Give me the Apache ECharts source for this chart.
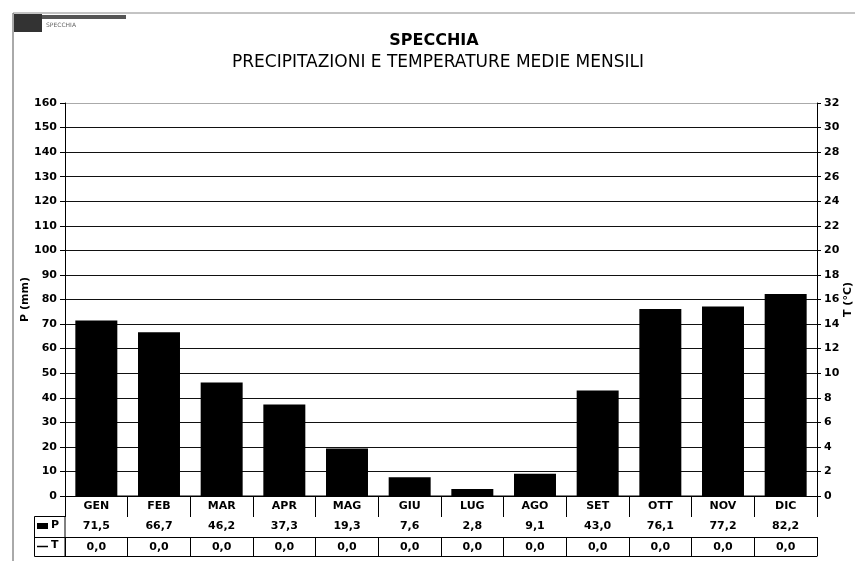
<!DOCTYPE html>
<html>
<head>
<meta charset="utf-8">
<script src="https://cdn.jsdelivr.net/npm/echarts@6/dist/echarts.min.js"></script>
<style>
html,body{margin:0;padding:0;background:#fff;overflow:hidden;}
#chart{width:858px;height:561px;}
</style>
</head>
<body>
<div id="chart"></div>
<script>
var categories = ['GEN','FEB','MAR','APR','MAG','GIU','LUG','AGO','SET','OTT','NOV','DIC'];
var precip = [71.5, 66.7, 46.2, 37.3, 19.3, 7.6, 2.8, 9.1, 43.0, 76.1, 77.2, 82.2];
var temp = [0.0, 0.0, 0.0, 0.0, 0.0, 0.0, 0.0, 0.0, 0.0, 0.0, 0.0, 0.0];
var titleText = 'SPECCHIA';
var subtitleText = 'PRECIPITAZIONI E TEMPERATURE MEDIE MENSILI';

function fmt(v){ return v.toFixed(1).replace('.', ','); }

var FONT = 'DejaVu Sans';
var lblStyle = {fontFamily: FONT, fontWeight: 'bold', fontSize: 11, color: '#000'};

var splitColors = [];
for (var i = 0; i < 16; i++) splitColors.push('#111');
splitColors.push('#aaa');

function tableAxis(offset, data, tickLen, showLabel) {
  return {
    type: 'category',
    gridIndex: 0,
    position: 'bottom',
    offset: offset,
    data: data,
    boundaryGap: true,
    axisLine: {show: true, lineStyle: {color: '#000', width: 1}},
    axisTick: {show: tickLen > 0, length: tickLen, inside: false, lineStyle: {color: '#000', width: 1}},
    axisLabel: Object.assign({show: showLabel, margin: 5, interval: 0}, lblStyle),
    splitLine: {show: false}
  };
}

var chart = echarts.init(document.getElementById('chart'));
chart.setOption({
  animation: false,
  backgroundColor: '#fff',
  grid: {left: 65, right: 41, top: 103, bottom: 65, containLabel: false, outerBoundsMode: 'none'},
  xAxis: [
    tableAxis(0, categories, 20, true),
    tableAxis(20, precip.map(fmt), 21, true),
    tableAxis(41, temp.map(fmt), 19, true),
    tableAxis(60, categories, 0, false)
  ],
  yAxis: [
    {
      type: 'value', min: 0, max: 160, interval: 10, position: 'left',
      name: 'P (mm)', nameLocation: 'middle', nameRotate: 90, nameGap: 34, nameMoveOverlap: false,
      nameTextStyle: {fontFamily: FONT, fontWeight: 'bold', fontSize: 11, color: '#000'},
      axisLine: {show: true, lineStyle: {color: '#000', width: 1}},
      axisTick: {show: true, length: 5, lineStyle: {color: '#000'}},
      axisLabel: Object.assign({margin: 8}, lblStyle),
      splitLine: {show: true, lineStyle: {color: splitColors, width: 1}}
    },
    {
      type: 'value', min: 0, max: 32, interval: 2, position: 'right',
      name: 'T (°C)', nameLocation: 'middle', nameRotate: 90, nameGap: 26, nameMoveOverlap: false,
      nameTextStyle: {fontFamily: FONT, fontWeight: 'bold', fontSize: 11, color: '#000'},
      axisLine: {show: true, lineStyle: {color: '#000', width: 1}},
      axisTick: {show: true, length: 4, lineStyle: {color: '#000'}},
      axisLabel: Object.assign({margin: 7}, lblStyle),
      splitLine: {show: false}
    }
  ],
  series: [
    {
      name: 'P', type: 'bar', xAxisIndex: 0, yAxisIndex: 0,
      data: precip, barCategoryGap: '33%',
      itemStyle: {color: '#000'}
    },
    {
      name: 'T', type: 'line', xAxisIndex: 0, yAxisIndex: 1,
      data: temp, symbol: 'none',
      lineStyle: {color: '#000', width: 1}
    }
  ],
  graphic: [
    {type: 'text', style: {x: 434, y: 41, text: titleText, font: 'bold 16px DejaVu Sans', fill: '#000', textAlign: 'center', textVerticalAlign: 'middle'}},
    {type: 'text', style: {x: 438, y: 63, text: subtitleText, font: '17px DejaVu Sans', fill: '#000', textAlign: 'center', textVerticalAlign: 'middle'}},
    {type: 'line', shape: {x1: 13, y1: 13, x2: 855, y2: 13}, style: {stroke: '#888', lineWidth: 1}},
    {type: 'line', shape: {x1: 13, y1: 13, x2: 13, y2: 561}, style: {stroke: '#555', lineWidth: 1}},
    {type: 'rect', shape: {x: 14, y: 14, width: 28, height: 18}, style: {fill: '#333'}},
    {type: 'rect', shape: {x: 42, y: 15, width: 84, height: 4}, style: {fill: '#555'}},
    {type: 'text', style: {x: 46, y: 22, text: 'SPECCHIA', font: '6px DejaVu Sans', fill: '#666'}},
    {type: 'rect', shape: {x: 34.5, y: 516.5, width: 30.5, height: 40}, style: {fill: 'none', stroke: '#000', lineWidth: 1}},
    {type: 'line', shape: {x1: 34.5, y1: 537.5, x2: 65, y2: 537.5}, style: {stroke: '#000', lineWidth: 1}},
    {type: 'rect', shape: {x: 37, y: 523, width: 11, height: 6}, style: {fill: '#000'}},
    {type: 'text', style: {x: 51, y: 520, text: 'P', font: 'bold 11px DejaVu Sans', fill: '#000'}},
    {type: 'line', shape: {x1: 37, y1: 546.5, x2: 48, y2: 546.5}, style: {stroke: '#000', lineWidth: 1.5}},
    {type: 'text', style: {x: 51, y: 540, text: 'T', font: 'bold 11px DejaVu Sans', fill: '#000'}}
  ]
});
</script>
</body>
</html>
